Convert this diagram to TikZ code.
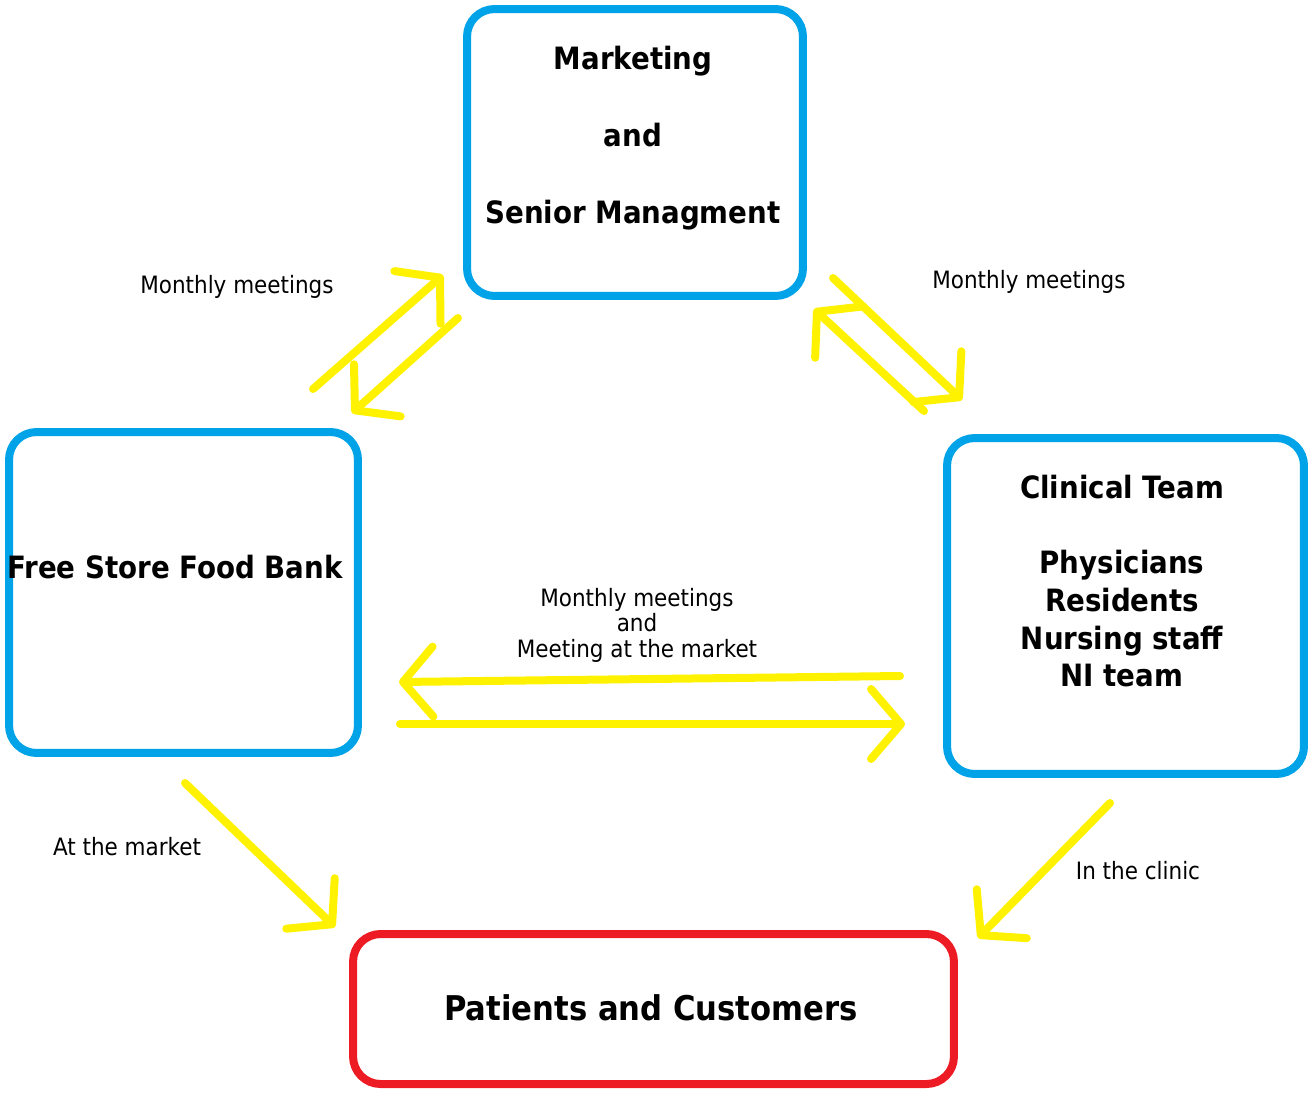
\documentclass[tikz,border=0pt]{standalone}
\usepackage{fontspec}
\setmainfont{DejaVu Sans Condensed}
\usetikzlibrary{arrows.meta}
\definecolor{PaintBlue}{RGB}{0,162,232}
\definecolor{PaintRed}{RGB}{237,28,36}
\definecolor{PaintYellow}{RGB}{255,242,0}

\begin{document}
\begin{tikzpicture}[x=0.02cm, y=-0.02cm,
    box/.style={draw=PaintBlue, line width=0.16cm, rounded corners=0.55cm},
    boxtext/.style={font=\bfseries\fontsize{17.5}{21.5}\selectfont, align=center, inner sep=0pt},
    talk/.style={font=\fontsize{13.6}{14.5}\selectfont, align=center, inner sep=0pt},
    flow/.style={draw=PaintYellow, line width=0.16cm, line cap=round,
        -{Straight Barb[length=0.6cm, width=1.4cm, round]}}]
    \useasboundingbox (0,0) rectangle (1310,1092);

    % the four groups
    \node[box, minimum width=6.72cm, minimum height=5.74cm] (mkt) at (635,152.5) {};
    \node[box, minimum width=6.98cm, minimum height=6.42cm] (food) at (183.5,592.5) {};
    \node[box, minimum width=7.14cm, minimum height=6.72cm] (clin) at (1125.5,606) {};
    \node[box, draw=PaintRed, minimum width=12.02cm, minimum height=3.0cm] (pat) at (653.5,1009) {};

    \node[boxtext, font=\bfseries\fontsize{17.5}{43.7}\selectfont] (mkttext) at (633,138) {Marketing\\and\\Senior Managment};
    \node[boxtext] (foodtext) at (175,567) {Free Store Food Bank};
    \node[boxtext] (clintext) at (1122,581) {Clinical Team\\[21.5pt]Physicians\\Residents\\Nursing staff\\NI team};
    \node[boxtext, font=\bfseries\fontsize{19.4}{23}\selectfont] (pattext) at (651,1008) {Patients and Customers};

    % ends of the hand drawn arrows
    \coordinate (fm1) at (313,389);  \coordinate (fm2) at (443,275);
    \coordinate (mf1) at (458,318);  \coordinate (mf2) at (352,413);
    \coordinate (mc1) at (833,278);  \coordinate (mc2) at (962,400);
    \coordinate (cm1) at (924,411);  \coordinate (cm2) at (814,309);
    \coordinate (cf1) at (900,676);  \coordinate (cf2) at (399,682);
    \coordinate (fc1) at (400,724);  \coordinate (fc2) at (905,724);
    \coordinate (fp1) at (185,783);  \coordinate (fp2) at (335,927);
    \coordinate (cp1) at (1110,803); \coordinate (cp2) at (978,938);

    \draw[flow] (fm1) -- (fm2);
    \draw[flow] (mf1) -- (mf2);
    \draw[flow] (mc1) -- (mc2);
    \draw[flow] (cm1) -- (cm2);
    \draw[flow] (cf1) -- (cf2);
    \draw[flow] (fc1) -- (fc2);
    \draw[flow] (fp1) -- (fp2);
    \draw[flow] (cp1) -- (cp2);

    % what the arrows say
    \node[talk] (lblfm) at (237,287) {Monthly meetings};
    \node[talk] (lblmc) at (1029,282) {Monthly meetings};
    \node[talk] (lblfc) at (637,625) {Monthly meetings\\and\\Meeting at the market};
    \node[talk] (lblfp) at (127,847) {At the market};
    \node[talk] (lblcp) at (1138,871) {In the clinic};
\end{tikzpicture}
\end{document}
